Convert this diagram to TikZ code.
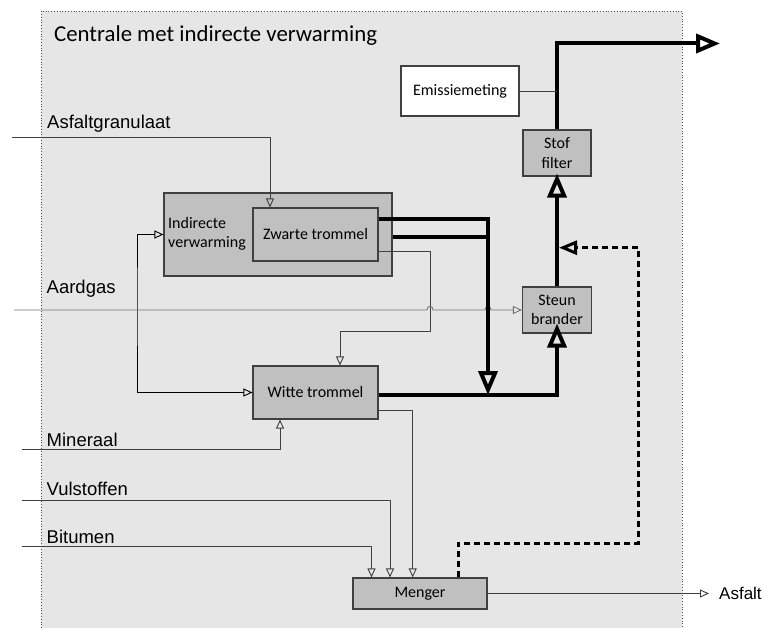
\documentclass[tikz,border=0pt]{standalone}
\usepackage{fontspec}
\setmainfont{Liberation Sans}
\newfontfamily\boxfont{Carlito}
\usetikzlibrary{arrows.meta}
\definecolor{bgc}{HTML}{E6E6E6}
\definecolor{boxc}{HTML}{C0C0C0}
\definecolor{thinc}{HTML}{404040}
\tikzset{
  blk/.style={draw=thinc, line width=1.1pt, fill=boxc, inner sep=0pt, font=\boxfont\fontsize{16}{19.5}\selectfont, align=center},
  thin/.style={draw=thinc, line width=0.9pt},
  sarr/.style={-{Triangle[open,length=9pt,width=8pt,line width=0.9pt]}},
  thick/.style={draw=black, line width=4pt},
  barr/.style={-{Triangle[open,length=24pt,width=19pt,line width=4pt]}},
  lbl/.style={font=\fontsize{18.5}{22}\selectfont, inner sep=0pt, anchor=base west},
}
\begin{document}
\begin{tikzpicture}[x=1pt,y=-1pt]
\useasboundingbox (0,0) rectangle (763,628);
% background panel
\fill[bgc] (41,11) rectangle (682,628);
\draw[black!70, line width=0.8pt, dotted] (41,628) -- (41,11) -- (682,11) -- (682,628);
\node[anchor=base west, inner sep=0pt, font=\boxfont\fontsize{22.8}{27}\selectfont] (title) at (54,41.7) {Centrale met indirecte verwarming};

% boxes
\node[blk, minimum width=228pt, minimum height=83pt] (iv) at (278,234.5) {};
\node[anchor=west, inner sep=0pt, align=left, font=\boxfont\fontsize{16}{18.5}\selectfont] (ivt) at (168,234) {Indirecte\\verwarming};
\node[blk, minimum width=125pt, minimum height=53pt] (zw) at (315.5,234.5) {Zwarte trommel};
\node[blk, minimum width=125pt, minimum height=53pt] (wt) at (315.5,392.5) {Witte trommel};
\node[blk, minimum width=69pt, minimum height=46pt] (sb) at (557,310) {Steun\\brander};
\node[blk, minimum width=68pt, minimum height=46pt] (sf) at (557,153) {Stof\\filter};
\node[blk, fill=white, minimum width=118pt, minimum height=50pt] (em) at (460,91) {Emissiemeting};
\node[blk, minimum width=134pt, minimum height=31pt] (mg) at (420,593.5) {Menger};

% labels
\node[lbl] (lag) at (47,129) {Asfaltgranulaat};
\node[lbl] (lad) at (46.5,293.3) {Aardgas};
\node[lbl] (lmi) at (46.5,446.5) {Mineraal};
\node[lbl] (lvu) at (46.5,495.7) {Vulstoffen};
\node[lbl] (lbi) at (46.5,543.3) {Bitumen};
\node[lbl, font=\fontsize{17}{20}\selectfont] (las) at (719,599) {Asfalt};

% free ends
\coordinate (sag) at (12,137);
\coordinate (sad) at (14,310);
\coordinate (smi) at (22,449.3);
\coordinate (svu) at (22,500.3);
\coordinate (sbi) at (22,546);
\coordinate (eas) at (709,593.5);
\coordinate (eout) at (720,43.5);

% thin inputs
\draw[thin, sarr] (sag) -| (zw.north -| 270,0);
\draw[thin, sarr] (smi) -| (wt.south -| 280,0);
\draw[thin, sarr] (svu) -| (mg.north -| 390,0);
\draw[thin, sarr] (sbi) -| (mg.north -| 371.5,0);
\draw[thin, sarr] (wt.east |- 0,410) -| (mg.north -| 412.7,0);
\draw[thin, sarr] (mg.east) -- (eas);
% indirecte verwarming <-> witte trommel
\draw[thin, draw=black, {Triangle[open,length=9pt,width=8pt,line width=0.9pt]}-{Triangle[open,length=9pt,width=8pt,line width=0.9pt]}]
  (iv.west) -| (137,300) |- (wt.west);
% zwarte trommel -> witte trommel
\draw[thin, sarr] (zw.east |- 0,251.3) -- (430,251.3) -- (430,331.7) -- (340,331.7) -- (wt.north -| 340,0);
% aardgas with hops
\draw[thin, draw=black!55, sarr] (sad) -- (427,310) .. controls (427,305) and (433,305) .. (433,310)
  -- (485,310) .. controls (485,305) and (491,305) .. (491,310) -- (sb.west);

% thick flows
\draw[thick] (zw.east |- 0,219.3) -- (488,219.3);
\draw[thick] (iv.east |- 0,236.7) -- (488,236.7);
\draw[thick, barr] (488,217.3) -- (488,395);
\draw[thick] (wt.east |- 0,395) -- (557,395);
\draw[thick, barr] (557,397) -- ([yshift=10pt]sb.south);
\draw[thick, barr] (sb.north) -- ([yshift=3pt]sf.south);
\draw[thick, barr] (sf.north) |- (eout);
\draw[thin] (em.east) -- (557,91);
% dashed return
\draw[black, line width=3pt, dash pattern=on 6pt off 4pt, -{Triangle[open,length=18pt,width=14pt,line width=3pt]}]
  (mg.north -| 458.3,0) -- (458.3,543.3) -- (638.3,543.3) -- (638.3,247.7) -- (559,247.7);
\end{tikzpicture}
\end{document}
